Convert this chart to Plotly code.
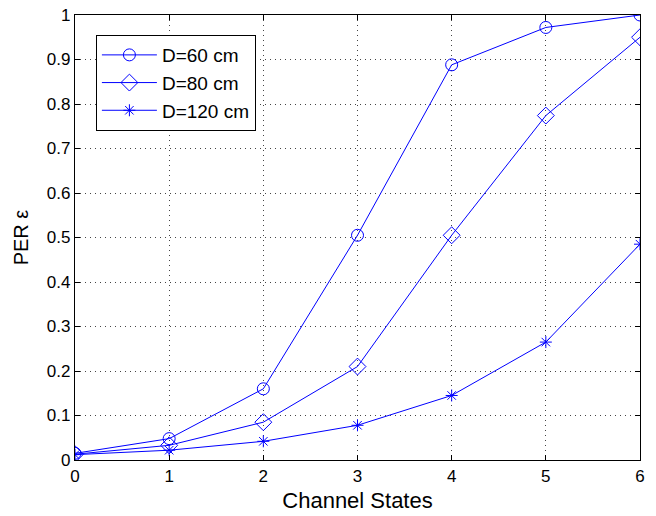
import plotly.graph_objects as go

channel_states = [0, 1, 2, 3, 4, 5, 6]
per_d60 = [0.015, 0.048, 0.160, 0.505, 0.888, 0.972, 1.000]
per_d80 = [0.013, 0.033, 0.085, 0.210, 0.505, 0.774, 0.950]
per_d120 = [0.012, 0.022, 0.042, 0.078, 0.145, 0.265, 0.485]
series_names = ["D=60 cm", "D=80 cm", "D=120 cm"]
x_ticks = [0, 1, 2, 3, 4, 5, 6]
y_ticks = [0, 0.1, 0.2, 0.3, 0.4, 0.5, 0.6, 0.7, 0.8, 0.9, 1]
y_tick_labels = ["0", "0.1", "0.2", "0.3", "0.4", "0.5", "0.6", "0.7", "0.8", "0.9", "1"]

blue = "#0000ff"
fig = go.Figure()
for vals, name, sym, size in [
    (per_d60, series_names[0], "circle-open", 12),
    (per_d80, series_names[1], "diamond-open", 13),
    (per_d120, series_names[2], "asterisk-open", 10),
]:
    fig.add_trace(go.Scatter(
        x=channel_states, y=vals, name=name, mode="lines+markers",
        line=dict(color=blue, width=1),
        marker=dict(symbol=sym, size=size, color=blue, line=dict(color=blue, width=1)),
    ))

axis_common = dict(
    showline=True, linecolor="black", linewidth=1.3, mirror="ticks",
    ticks="inside", ticklen=5, tickcolor="black",
    showgrid=True, gridcolor="#444444", griddash="1px,4px", gridwidth=1,
    zeroline=False, tickfont=dict(size=17, color="black"),
    automargin=False, ticklabeloverflow="allow",
)
fig.update_xaxes(range=[0, 6], tickvals=x_ticks, **axis_common,
                 title=dict(text="Channel States", font=dict(size=22, color="black"), standoff=8))
fig.update_yaxes(range=[0, 1], tickvals=y_ticks, ticktext=y_tick_labels, **axis_common,
                 title=dict(text="PER ε", font=dict(size=20, color="black"), standoff=12))

fig.update_layout(
    width=656, height=516,
    margin=dict(l=75, r=16, t=15, b=56),
    paper_bgcolor="white", plot_bgcolor="white",
    font=dict(family="Liberation Sans, Arial, sans-serif", color="black"),
    legend=dict(x=0.037, y=0.955, xanchor="left", yanchor="top",
                bgcolor="white", bordercolor="black", borderwidth=1,
                font=dict(size=19, color="black"), tracegroupgap=0,
                itemwidth=55),
    showlegend=True,
)
fig.write_html("out.html",
               config={"displayModeBar": False},
               post_script="document.body.style.margin='0px';document.body.style.overflow='hidden';")
